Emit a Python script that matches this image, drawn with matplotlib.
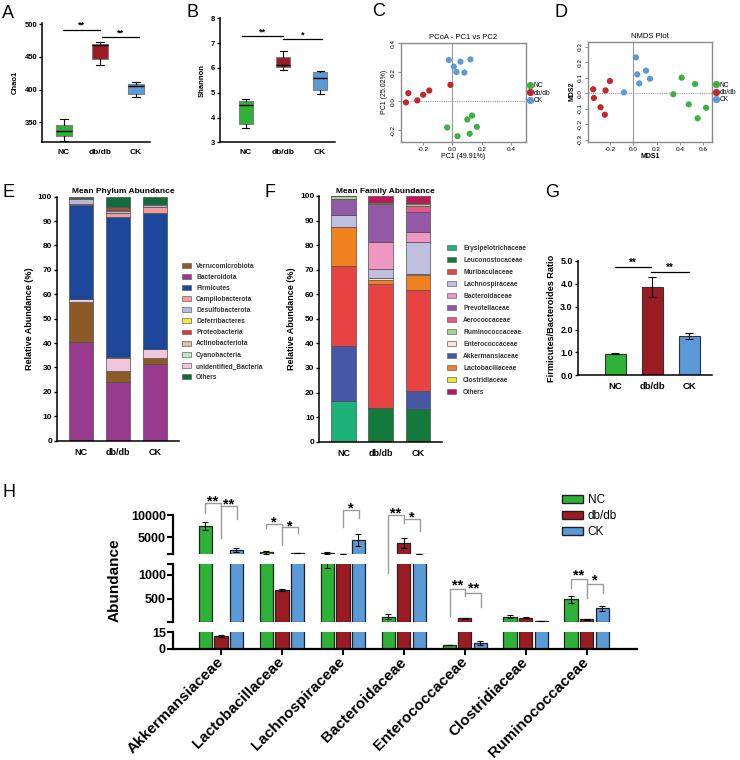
import numpy as np
import matplotlib
matplotlib.use("Agg")
import matplotlib.pyplot as plt
from matplotlib.patches import Patch
from matplotlib.lines import Line2D

plt.rcParams["font.family"] = ["Liberation Sans", "DejaVu Sans"]
plt.rcParams["font.weight"] = "bold"
plt.rcParams["axes.labelweight"] = "bold"
plt.rcParams["xtick.direction"] = "out"
plt.rcParams["ytick.direction"] = "out"

# ---------------- data ----------------
groups = ["NC", "db/db", "CK"]

# A: Chao1 box summaries (whisker low, q1, median, q3, whisker high)
chao1_low = [322, 437, 388]
chao1_q1 = [329, 446, 393]
chao1_med = [337, 468, 406]
chao1_q3 = [346, 470, 408]
chao1_high = [355, 473, 411]

# B: Shannon box summaries
shannon_low = [3.56, 5.92, 4.95]
shannon_q1 = [3.74, 6.05, 5.12]
shannon_med = [4.50, 6.13, 5.60]
shannon_q3 = [4.66, 6.45, 5.83]
shannon_high = [4.76, 6.70, 5.86]

# C: PCoA coordinates
pcoa_nc_x = [0.133, 0.101, 0.166, -0.036, 0.117, 0.034]
pcoa_nc_y = [-0.098, -0.125, -0.175, -0.180, -0.223, -0.240]
pcoa_db_x = [-0.014, -0.158, -0.199, -0.300, -0.239, -0.316]
pcoa_db_y = [0.114, 0.075, 0.046, 0.057, 0.007, -0.007]
pcoa_ck_x = [-0.025, 0.054, 0.122, 0.009, 0.027, 0.081]
pcoa_ck_y = [0.286, 0.274, 0.290, 0.240, 0.203, 0.199]

# D: NMDS coordinates
nmds_nc_x = [0.414, 0.529, 0.343, 0.475, 0.623, 0.551]
nmds_nc_y = [0.101, 0.060, -0.006, -0.071, -0.093, -0.161]
nmds_db_x = [-0.200, -0.343, -0.237, -0.337, -0.280, -0.243]
nmds_db_y = [0.079, 0.026, 0.019, -0.030, -0.090, -0.138]
nmds_ck_x = [0.023, 0.034, 0.109, 0.051, 0.143, -0.080]
nmds_ck_y = [0.232, 0.122, 0.146, 0.064, 0.094, 0.006]

# E: mean phylum abundance (%), stacked bottom -> top
phyla = ["Bacteroidota", "Verrucomicrobiota", "unidentified_Bacteria", "Cyanobacteria",
         "Firmicutes", "Campilobacterota", "Desulfobacterota", "Deferribacteres",
         "Proteobacteria", "Actinobacteriota", "Others"]
phylum_nc = [40.6, 16.1, 1.4, 0.1, 38.5, 0.3, 1.9, 0.1, 0.1, 0.2, 0.7]
phylum_db = [24.2, 4.4, 5.4, 0.2, 57.6, 1.5, 0.6, 0.7, 0.8, 0.5, 4.1]
phylum_ck = [31.3, 2.5, 3.7, 0.1, 55.7, 2.4, 0.7, 0.1, 0.2, 0.3, 3.0]
phylum_legend = ["Verrucomicrobiota", "Bacteroidota", "Firmicutes", "Campilobacterota",
                 "Desulfobacterota", "Deferribacteres", "Proteobacteria", "Actinobacteriota",
                 "Cyanobacteria", "unidentified_Bacteria", "Others"]

# F: mean family abundance (%), stacked bottom -> top
families = ["Erysipelotrichaceae", "Leuconostocaceae", "Akkermansiaceae", "Muribaculaceae",
            "Lactobacillaceae", "Enterococcaceae", "Lachnospiraceae", "Bacteroidaceae",
            "Prevotellaceae", "Aerococcaceae", "Ruminococcaceae", "Clostridiaceae", "Others"]
family_nc = [16.5, 0.0, 22.4, 32.5, 15.8, 0.2, 4.8, 0.2, 6.2, 0.1, 1.1, 0.1, 0.1]
family_db = [0.1, 13.5, 0.0, 50.5, 1.9, 0.5, 3.6, 11.2, 15.3, 0.3, 0.2, 0.3, 2.6]
family_ck = [0.1, 13.1, 7.4, 41.1, 6.3, 0.2, 13.1, 4.1, 8.1, 2.4, 0.7, 0.4, 3.0]
family_legend = ["Erysipelotrichaceae", "Leuconostocaceae", "Muribaculaceae", "Lachnospiraceae",
                 "Bacteroidaceae", "Prevotellaceae", "Aerococcaceae", "Ruminococcaceae",
                 "Enterococcaceae", "Akkermansiaceae", "Lactobacillaceae", "Clostridiaceae", "Others"]

# G: Firmicutes/Bacteroides ratio
fb_ratio = [0.94, 3.87, 1.71]
fb_err = [0.03, 0.44, 0.13]

# H: family abundance per group
h_families = ["Akkermansiaceae", "Lactobacillaceae", "Lachnospiraceae", "Bacteroidaceae",
              "Enterococcaceae", "Clostridiaceae", "Ruminococcaceae"]
h_nc = [7600, 1640, 1480, 120, 3.4, 120, 487]
h_nc_err = [900, 290, 330, 50, 0.4, 36, 70]
h_db = [11.5, 683, 1330, 3660, 86, 99, 65]
h_db_err = [1.0, 20, 30, 1120, 8, 11, 7]
h_ck = [2150, 1420, 4450, 1330, 5.5, 36, 297]
h_ck_err = [520, 40, 1300, 20, 1.8, 4, 49]

# ---------------- styles ----------------
box_colors = ["#2db236", "#9b1b22", "#5a9ad6"]
dot_colors = ["#3cb043", "#c1272d", "#5b9bd5"]
phylum_colors = {
    "Verrucomicrobiota": "#8c5a27", "Bacteroidota": "#983a8e", "Firmicutes": "#1d479b",
    "Campilobacterota": "#f29b9a", "Desulfobacterota": "#bab7dc", "Deferribacteres": "#f3ec2b",
    "Proteobacteria": "#e8322d", "Actinobacteriota": "#dcc0a8", "Cyanobacteria": "#bfe5d5",
    "unidentified_Bacteria": "#f0c6dc", "Others": "#126b3d"}
family_colors = {
    "Erysipelotrichaceae": "#1db27a", "Leuconostocaceae": "#137a3b", "Muribaculaceae": "#e84343",
    "Lachnospiraceae": "#c1bfdf", "Bacteroidaceae": "#ee98c2", "Prevotellaceae": "#9459a6",
    "Aerococcaceae": "#e8588b", "Ruminococcaceae": "#a2d590", "Enterococcaceae": "#fde2de",
    "Akkermansiaceae": "#4657a7", "Lactobacillaceae": "#ef8121", "Clostridiaceae": "#f2e62b",
    "Others": "#c3145a"}

W, H = 740, 760
fig = plt.figure(figsize=(W / 100, H / 100), dpi=100)


def px_ax(l, t, r, b):
    return fig.add_axes([l / W, 1 - b / H, (r - l) / W, (b - t) / H])


def ftext(x, y, s, **kw):
    fig.text(x / W, 1 - y / H, s, **kw)


def clean(ax, lw=1.1):
    for s in ["top", "right"]:
        ax.spines[s].set_visible(False)
    for s in ["left", "bottom"]:
        ax.spines[s].set_linewidth(lw)


# panel letters
for letter, x, y in [("A", 2, 18), ("B", 186, 17), ("C", 372, 16), ("D", 555, 17),
                     ("E", 2, 197), ("F", 265, 197), ("G", 545, 197), ("H", 3, 497)]:
    ftext(x, y, letter, fontsize=13, fontweight="normal", va="baseline")


# ---------------- A / B box plots ----------------
def box_panel(ax, lo, q1, med, q3, hi, width):
    stats = [dict(whislo=lo[i], q1=q1[i], med=med[i], q3=q3[i], whishi=hi[i], label=groups[i])
             for i in range(3)]
    bp = ax.bxp(stats, positions=range(3), widths=width, patch_artist=True, showfliers=False,
                boxprops=dict(edgecolor="#808080", linewidth=0.8),
                whiskerprops=dict(color="black", linewidth=0.8),
                capprops=dict(color="black", linewidth=0.8),
                medianprops=dict(color="black", linewidth=1.0))
    for patch, c in zip(bp["boxes"], box_colors):
        patch.set_facecolor(c)
    clean(ax)
    ax.tick_params(axis="x", length=0, labelsize=6, pad=5)
    ax.tick_params(axis="y", length=2.5, width=1, labelsize=5.5, pad=1)


def sig_line(ax, x0, x1, y, label, size=6.5, dy=0):
    ax.plot([x0, x1], [y, y], color="black", lw=0.9, clip_on=False)
    ax.text((x0 + x1) / 2, y + dy, label, ha="center", va="bottom", fontsize=size, clip_on=False)


axA = px_ax(42, 22.7, 150, 142)
box_panel(axA, chao1_low, chao1_q1, chao1_med, chao1_q3, chao1_high, 0.45)
axA.set_xlim(-0.61, 2.39)
axA.set_ylim(320, 502)
axA.set_yticks([350, 400, 450, 500])
axA.set_ylabel("Chao1", fontsize=5.5, labelpad=4)
sig_line(axA, -0.02, 1.0, 490.8, "**")
sig_line(axA, 1.05, 2.08, 480, "**")

axB = px_ax(220, 18.3, 335, 142.3)
box_panel(axB, shannon_low, shannon_q1, shannon_med, shannon_q3, shannon_high, 0.38)
axB.set_xlim(-0.7, 2.4)
axB.set_ylim(3, 8)
axB.set_yticks([3, 4, 5, 6, 7, 8])
axB.set_ylabel("Shannon", fontsize=5.5, labelpad=4)
sig_line(axB, -0.1, 1.0, 7.28, "**")
sig_line(axB, 1.0, 2.05, 7.15, "*")


# ---------------- C / D ordination ----------------
def ord_panel(ax, pts, xlim, ylim, xticks, yticks, title, xlabel, ylabel, lab_weight):
    ax.axhline(0, color="#9a9a9a", lw=0.8, ls=(0, (1, 1)), zorder=1)
    ax.axvline(0, color="#9a9a9a", lw=0.8, zorder=1)
    handles = []
    for (px, py), c, g in zip(pts, dot_colors, groups):
        ax.scatter(px, py, s=20, color=c, edgecolors="none", zorder=3)
        handles.append(Line2D([], [], marker="o", ls="none", color=c, markersize=4.2, label=g))
    ax.set_xlim(*xlim)
    ax.set_ylim(*ylim)
    ax.set_xticks(xticks)
    ax.set_yticks(yticks)
    ax.set_xticklabels([f"{v:.1f}" for v in xticks], fontweight="normal")
    ax.set_yticklabels([f"{v:.1f}" for v in yticks], fontweight="normal", rotation=90, va="center")
    for s in ax.spines.values():
        s.set_color("#8a8a8a")
        s.set_linewidth(1.0)
    ax.tick_params(labelsize=4.6, length=2, width=0.7, color="#8a8a8a", pad=1.5)
    ax.set_title(title, fontsize=5.5, pad=3)
    ax.set_xlabel(xlabel, fontsize=5, fontweight=lab_weight, labelpad=1)
    ax.set_ylabel(ylabel, fontsize=5, fontweight=lab_weight, labelpad=2)
    ax.legend(handles=handles, loc="upper left", bbox_to_anchor=(1.0, 0.62), frameon=False,
              handlelength=0.6, handletextpad=0.2, labelspacing=0.05,
              borderpad=0, borderaxespad=0.3, prop=dict(size=4.8, weight="normal"))


axC = px_ax(401, 42.7, 526, 142)
ord_panel(axC, [(pcoa_nc_x, pcoa_nc_y), (pcoa_db_x, pcoa_db_y), (pcoa_ck_x, pcoa_ck_y)],
          (-0.35, 0.5), (-0.28, 0.405), [-0.2, 0.0, 0.2, 0.4], [-0.2, 0.0, 0.2, 0.4],
          "PCoA - PC1 vs PC2", "PC1 (49.91%)", "PC1 (25.02%)", "normal")

axD = px_ax(587.7, 41.7, 712, 141.7)
ord_panel(axD, [(nmds_nc_x, nmds_nc_y), (nmds_db_x, nmds_db_y), (nmds_ck_x, nmds_ck_y)],
          (-0.39, 0.674), (-0.312, 0.333), [-0.2, 0.0, 0.2, 0.4, 0.6],
          [-0.3, -0.2, -0.1, 0.0, 0.1, 0.2, 0.3],
          "NMDS Plot", "MDS1", "MDS2", "bold")


# ---------------- E / F stacked bars ----------------
def stack_panel(ax, names, cols, colors, legend_order, leg_x, leg_y, leg_space, leg_pad):
    bottoms = np.zeros(3)
    for i, name in enumerate(names):
        vals = np.array([cols[0][i], cols[1][i], cols[2][i]])
        ax.bar(range(3), vals, 0.66, bottom=bottoms, color=colors[name],
               edgecolor="#4d4d4d", linewidth=0.5)
        bottoms += vals
    clean(ax)
    ax.set_xlim(-0.65, 2.66)
    ax.set_ylim(0, 100)
    ax.set_yticks(range(0, 101, 10))
    ax.set_xticks(range(3), groups)
    ax.tick_params(axis="x", length=0, labelsize=6.5, pad=5)
    ax.tick_params(axis="y", length=2.5, width=1, labelsize=6, pad=1)
    ax.set_ylabel("Relative Abundance (%)", fontsize=6.5, labelpad=3)
    handles = [Patch(facecolor=colors[n], edgecolor="#666666", linewidth=0.5, label=n)
               for n in legend_order]
    leg = ax.legend(handles=handles, loc="upper left", bbox_to_anchor=(leg_x / W, 1 - leg_y / H),
                    bbox_transform=fig.transFigure, frameon=False, handlelength=1.45,
                    handleheight=0.75, handletextpad=leg_pad, labelspacing=leg_space,
                    borderpad=0, borderaxespad=0, prop=dict(size=4.8, weight="bold"))
    for t in leg.get_texts():
        t.set_color("#333333")


axE = px_ax(57, 196.6, 179, 440.7)
stack_panel(axE, phyla, [phylum_nc, phylum_db, phylum_ck], phylum_colors, phylum_legend,
            181.7, 262.5, 0.62, 0.7)
ftext(123, 193, "Mean Phylum Abundance", fontsize=6, ha="center", va="baseline")

axF = px_ax(319.3, 196, 442.3, 441.7)
stack_panel(axF, families, [family_nc, family_db, family_ck], family_colors, family_legend,
            446.7, 245, 0.75, 1.0)
ftext(385, 193, "Mean Family Abundance", fontsize=6, ha="center", va="baseline")


# ---------------- G ratio bars ----------------
axG = px_ax(577.7, 261, 711.7, 375.3)
axG.bar(range(3), fb_ratio, 0.55, color=box_colors, edgecolor="#333333", linewidth=0.8)
axG.errorbar(range(3), fb_ratio, yerr=fb_err, fmt="none", ecolor="black", elinewidth=0.8,
             capsize=3, capthick=0.8)
clean(axG)
axG.set_xlim(-1.02, 2.6)
axG.set_ylim(0, 5)
axG.set_yticks(np.arange(0, 5.01, 1.0))
axG.set_yticklabels([f"{v:.1f}" for v in np.arange(0, 5.01, 1.0)])
axG.set_xticks(range(3), groups)
axG.tick_params(axis="x", length=0, labelsize=6.8, pad=5)
axG.tick_params(axis="y", length=2.5, width=1, labelsize=6.5, pad=1)
axG.set_ylabel("Firmicutes/Bacteroides Ratio", fontsize=6.6, labelpad=3)
sig_line(axG, 0.0, 0.96, 4.74, "**", size=7, dy=-0.05)
sig_line(axG, 0.96, 2.0, 4.52, "**", size=7, dy=-0.05)


# ---------------- H broken-axis bars ----------------
h_left, h_right = 172.7, 636.7
axH_top = px_ax(h_left, 515, h_right, 554)
axH_mid = px_ax(h_left, 564.3, h_right, 621.7)
axH_bot = px_ax(h_left, 632.3, h_right, 648.7)
xh = np.arange(len(h_families))
offsets = [-0.255, 0.0, 0.255]
series = [(h_nc, h_nc_err), (h_db, h_db_err), (h_ck, h_ck_err)]

for ax, ylim, majors, minors in [(axH_top, (1250, 10000), [5000, 10000], [1250]),
                                 (axH_mid, (15, 1225), [500, 1000], [15, 1225]),
                                 (axH_bot, (0, 15), [0, 15], [])]:
    for (vals, errs), off, c in zip(series, offsets, box_colors):
        # bars lying wholly below this segment are not drawn in it
        v = np.array(vals, dtype=float)
        shown = np.where(v > ylim[0], v, np.nan)
        ax.bar(xh + off, shown, 0.22, color=c, edgecolor="#222222", linewidth=0.9)
        ax.errorbar(xh + off, shown, yerr=errs, fmt="none", ecolor="black", elinewidth=0.8,
                    capsize=2.5, capthick=0.8)
    ax.set_xlim(-0.79, 6.82)
    ax.set_ylim(*ylim)
    ax.set_yticks(majors)
    ax.set_yticks(minors, minor=True)
    ax.tick_params(axis="y", which="both", length=4, width=1.5, labelsize=9, pad=1)
    for s in ["top", "right", "bottom"]:
        ax.spines[s].set_visible(False)
    ax.spines["left"].set_linewidth(1.6)
    ax.patch.set_alpha(0)
    ax.set_xticks([])

axH_bot.spines["bottom"].set_visible(True)
axH_bot.spines["bottom"].set_linewidth(1.6)
axH_bot.set_xticks(xh)
axH_bot.set_xticklabels(h_families, rotation=45, ha="right", va="center", rotation_mode="anchor",
                        fontsize=11)
axH_bot.tick_params(axis="x", length=4, width=1.5, pad=4)
ftext(115, 580, "Abundance", fontsize=11, rotation=90, ha="center", va="center")


def bracket(ax, g, x0, x1, y, yl, yr, label, dy):
    xa, xb = g + x0, g + x1
    ax.plot([xa, xa, xb, xb], [yl, y, y, yr], color="#9a9a9a", lw=1.0, clip_on=False)
    ax.text((xa + xb) / 2, y + dy, label, ha="center", va="bottom", fontsize=10.5, clip_on=False)


# group, from, to, bar height, left leg end, right leg end, label
top_brackets = [(0, -0.26, 0.0, 12755, 10380, 4780, "**"), (0, 0.0, 0.26, 12016, 12016, 9037, "**"),
                (1, -0.26, 0.0, 7984, 7021, 3280, "*"), (1, 0.0, 0.26, 7245, 7245, 5900, "*"),
                (2, 0.0, 0.27, 11120, 7380, 9261, "*"),
                (3, -0.26, 0.0, 10000, -2925, 8141, "**"), (3, 0.0, 0.27, 9104, 9104, 6483, "*")]
mid_brackets = [(4, -0.25, 0.01, 698, 135, 557, "**"), (4, 0.01, 0.27, 627, 627, 331, "**"),
                (6, -0.26, 0.0, 909, 732, 521, "**"), (6, 0.0, 0.26, 804, 804, 627, "*")]
for b in top_brackets:
    bracket(axH_top, *b, dy=-1300)
for b in mid_brackets:
    bracket(axH_mid, *b, dy=-60)

h_handles = [Patch(facecolor=c, edgecolor="#222222", linewidth=1.0, label=g)
             for c, g in zip(box_colors, groups)]
axH_top.legend(handles=h_handles, loc="upper left", bbox_to_anchor=(561.7 / W, 1 - 494 / H),
               bbox_transform=fig.transFigure, frameon=False, handlelength=1.8, handleheight=0.6,
               handletextpad=0.4, labelspacing=0.35, borderpad=0, borderaxespad=0,
               prop=dict(size=8.5, weight="normal"))

fig.savefig("out.png", dpi=100)
